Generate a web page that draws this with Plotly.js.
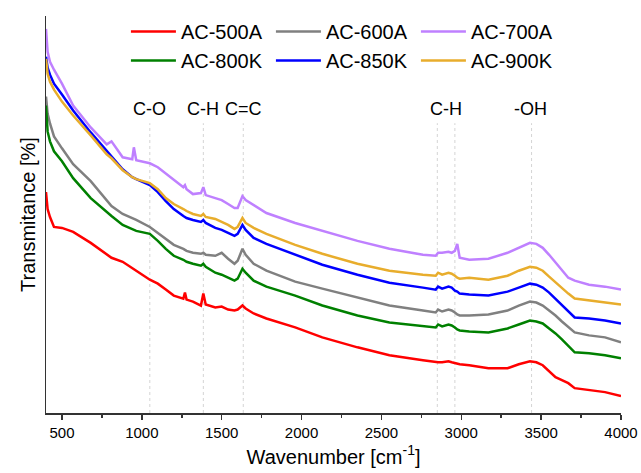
<!DOCTYPE html>
<html>
<head>
<meta charset="utf-8">
<script src="https://cdn.plot.ly/plotly-3.0.1.min.js"></script>
<style>html,body{margin:0;padding:0;background:#fff;}#chart{width:641px;height:473px;}</style>
</head>
<body>
<div id="chart"></div>
<script>
// Wavenumber grid (cm^-1)
const wavenumber = [400,410,425,450,500, 570,680,780,810,880, 940,950,965,1050,1100, 1150,1200,1260,1270,1280, 1320,1370,1385,1400,1460, 1500,1540,1580,1600,1630, 1650,1700,1780,1960,2130, 2350,2550,2760,2840,2855, 2880,2920,2940,2960,2975, 2990,3050,3170,3290,3360, 3430,3470,3510,3550,3590, 3630,3670,3710,3800,3900, 4000];

// Transmittance (arbitrary units, offset spectra)
const ac500A = [222,205,197,187,186, 182,171,159,156,152, 145,144,143,134,130, 124,118,115,121,114, 112,108,120,109,106, 107,104,103,104,108, 105,100,95,86,76, 66,58,53,51,51, 51,52,51,50,50, 49,48,45,45,49, 52,51,48,42,36, 33,30,25,23,21, 17];
const ac600A = [318,301,291,278,266, 250,233,213,208,200, 196,195,194,187,181, 175,169,165,164,163, 161,160,161,159,158, 161,155,150,153,165, 159,150,143,132,125, 116,108,103,101,104, 102,104,103,101,99, 98,98,99,103,108, 112,111,108,103,98, 92,86,81,78,76, 71];
const ac700A = [386,363,353,345,331, 309,287,270,273,257, 255,267,254,251,247, 241,235,227,229,225, 220,221,227,219,216, 214,210,206,206,218, 214,209,201,191,183, 173,165,159,158,161, 161,162,161,163,170, 156,154,155,161,166, 171,170,166,159,151, 143,136,133,129,127, 124];
const ac800K = [309,283,273,263,253, 236,216,202,198,189, 185,184,183,180,173, 165,158,154,153,152, 150,148,150,147,141, 139,136,133,135,145, 141,133,127,118,108, 98,91,87,86,89, 87,89,88,86,84, 83,82,81,85,89, 93,92,90,85,80, 74,68,61,60,58, 55];
const ac850K = [358,347,340,331,320, 304,282,263,258,245, 237,236,235,229,222, 213,205,198,197,196, 194,192,194,191,186, 184,181,178,180,189, 184,176,170,159,149, 139,131,126,124,127, 125,127,126,123,122, 120,119,118,122,126, 130,129,126,121,115, 108,102,96,95,93, 90];
const ac900K = [356,341,333,325,313, 299,279,260,256,244, 237,236,235,231,225, 216,210,205,204,203, 200,198,200,197,195, 192,189,185,187,196, 191,186,180,169,160, 150,143,139,138,141, 139,141,140,138,136, 135,136,134,138,143, 147,146,143,137,131, 125,120,115,113,111, 109];

const seriesNames = ["AC-500A","AC-600A","AC-700A","AC-800K","AC-850K","AC-900K"];
const seriesValues = [ac500A, ac600A, ac700A, ac800K, ac850K, ac900K];
const seriesColors = ["#ff0000","#808080","#bf80ff","#008000","#0000ff","#e8ad2c"];

// Band assignments
const bandPositions = [1050, 1385, 1635, 2850, 2960, 3440];
const bandLabels = ["C-O", "C-H", "C=C", "C-H", "-OH"];
const bandLabelPos = [1050, 1385, 1635, 2905, 3435];

const font = "Liberation Sans, Arial, sans-serif";

const traces = seriesNames.map((n, i) => ({
  type: "scatter", mode: "lines", name: n,
  x: wavenumber, y: seriesValues[i],
  line: {color: seriesColors[i], width: 2.5}
}));

const shapes = bandPositions.map(p => ({
  type: "line", xref: "x", yref: "paper", x0: p, x1: p, y0: 0, y1: 0.73,
  line: {color: "#d4d4d4", width: 1, dash: "dot"}, layer: "below"
}));

const annotations = bandLabels.map((t, i) => ({
  x: bandLabelPos[i], xref: "x", y: 0.765, yref: "paper", text: t,
  showarrow: false, font: {family: font, size: 18, color: "#000"}, yanchor: "middle"
}));

const layout = {
  width: 641, height: 473,
  margin: {l: 46, r: 20, t: 14, b: 60},
  paper_bgcolor: "#fff", plot_bgcolor: "#fff",
  font: {family: font, color: "#000"},
  showlegend: true,
  legend: {orientation: "h", x: 0.139, xanchor: "left", y: 1.01, yanchor: "top",
    entrywidth: 85, entrywidthmode: "pixels", itemwidth: 45,
    font: {family: font, size: 20, color: "#000"}, bgcolor: "rgba(0,0,0,0)"},
  xaxis: {
    range: [400, 4000], tickvals: [500,1000,1500,2000,2500,3000,3500,4000],
    ticks: "outside", ticklen: 5, tickwidth: 1.5, tickcolor: "#333",
    minor: {tickvals: [750,1250,1750,2250,2750,3250,3750], ticks: "outside", ticklen: 3, tickwidth: 1.5, tickcolor: "#333"},
    showline: true, linecolor: "#333", linewidth: 1.5, showgrid: false, zeroline: false,
    tickfont: {family: font, size: 15, color: "#000"},
    title: {text: "Wavenumber [cm<sup>-1</sup>]", font: {family: font, size: 20, color: "#000"}, standoff: 10}
  },
  yaxis: {
    range: [0, 399], showticklabels: false, ticks: "", showline: true, linecolor: "#333", linewidth: 1.5,
    showgrid: false, zeroline: false,
    title: {text: "Transmitance [%]", font: {family: font, size: 20, color: "#000"}, standoff: 3}
  },
  shapes: shapes,
  annotations: annotations
};

Plotly.newPlot("chart", traces, layout, {displayModeBar: false, staticPlot: true});
</script>
</body>
</html>
